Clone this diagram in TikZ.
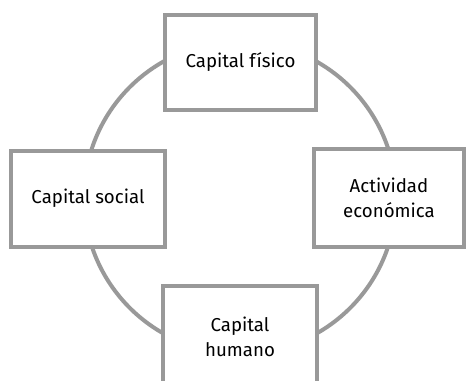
\documentclass[tikz,border=0pt]{standalone}
\usepackage{fontspec}
\setmainfont{Fira Sans}
\definecolor{ringgray}{RGB}{153,153,153}
\tikzset{
  capbox/.style={draw=ringgray, line width=3pt, fill=white, inner sep=0pt,
    align=center, font=\fontsize{14}{19}\selectfont}
}
\begin{document}
\begin{tikzpicture}[x=0.75pt,y=0.75pt,yscale=-1,xscale=1]

\useasboundingbox (0, 0) rectangle (466, 380);
\clip (0, 0) rectangle (466, 380);

\draw [ringgray, line width=3pt] (240, 197.5) circle [radius=156];

\node [capbox, minimum width=151*0.75pt, minimum height=95*0.75pt] (fisico) at (240.5, 62) {Capital físico};
\node [capbox, minimum width=153.5*0.75pt, minimum height=96*0.75pt] (social) at (88, 198.5) {Capital social};
\node [capbox, minimum width=150*0.75pt, minimum height=97.5*0.75pt] (actividad) at (389, 198) {Actividad\\económica};
\node [capbox, minimum width=154*0.75pt, minimum height=102*0.75pt] (humano) at (240, 336.5) {Capital\\humano};
\end{tikzpicture}
\end{document}
